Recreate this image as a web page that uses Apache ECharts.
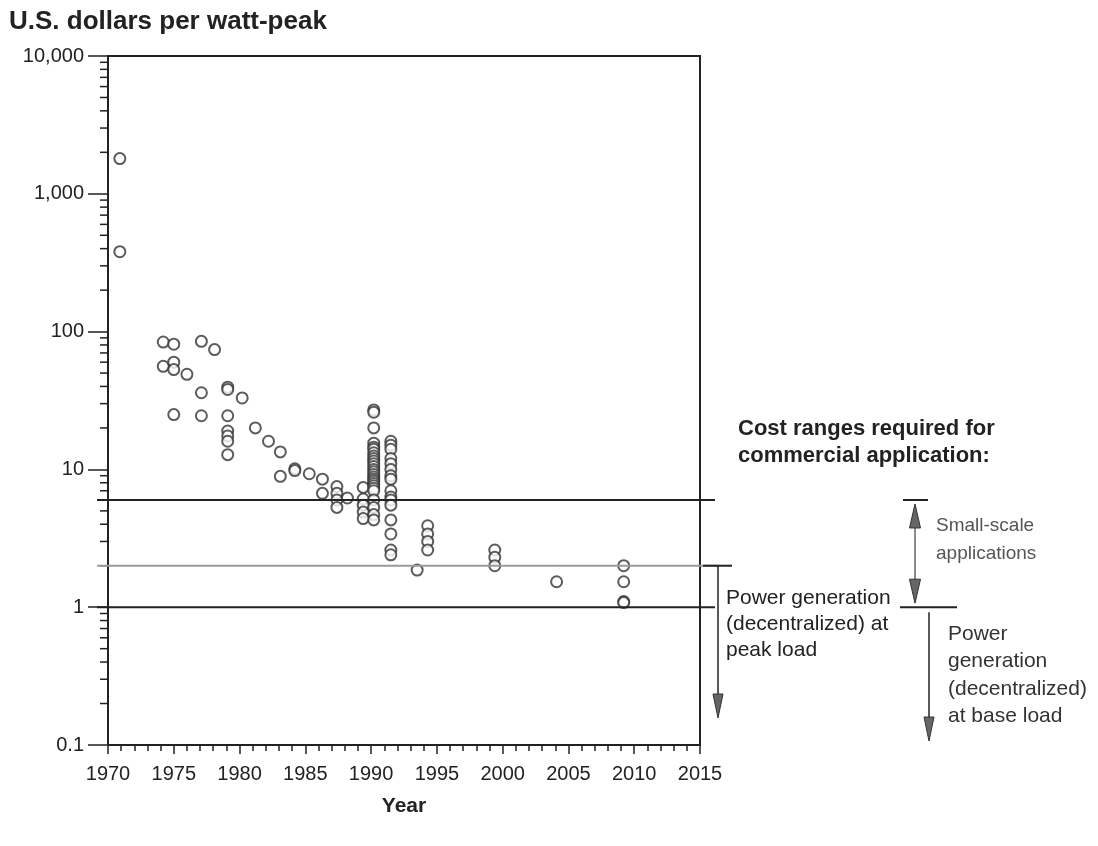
<!DOCTYPE html>
<html>
<head>
<meta charset="utf-8">
<script src="https://cdn.jsdelivr.net/npm/echarts@6/dist/echarts.min.js"></script>
<style>
html,body{margin:0;padding:0;background:#fff;}
#chart{width:1098px;height:846px;}
</style>
</head>
<body>
<div id="chart"></div>
<script>
// ---- data ----
const pointYears = [
  1970.9, 1970.9,
  1974.2, 1974.2,
  1975.0, 1975.0, 1975.0, 1975.0,
  1976.0,
  1977.1, 1977.1, 1977.1,
  1978.1,
  1979.1, 1979.1, 1979.1, 1979.1, 1979.1, 1979.1, 1979.1,
  1980.2, 1981.2, 1982.2,
  1983.1, 1983.1,
  1984.2, 1984.2,
  1985.3,
  1986.3, 1986.3,
  1987.4, 1987.4, 1987.4, 1987.4,
  1988.2,
  1989.4, 1989.4, 1989.4, 1989.4, 1989.4,
  1990.2, 1990.2, 1990.2, 1990.2, 1990.2, 1990.2, 1990.2, 1990.2, 1990.2, 1990.2, 1990.2, 1990.2, 1990.2,
  1990.2, 1990.2, 1990.2, 1990.2, 1990.2, 1990.2, 1990.2, 1990.2, 1990.2, 1990.2, 1990.2, 1990.2, 1990.2,
  1991.5, 1991.5, 1991.5, 1991.5, 1991.5, 1991.5, 1991.5, 1991.5,
  1991.5, 1991.5, 1991.5, 1991.5, 1991.5, 1991.5, 1991.5, 1991.5,
  1993.5,
  1994.3, 1994.3, 1994.3, 1994.3,
  1999.4, 1999.4, 1999.4,
  2004.1,
  2009.2, 2009.2, 2009.2, 2009.2
];
const pointCosts = [
  1800, 380,
  84, 56,
  81, 60, 53, 25,
  49,
  85, 36, 24.5,
  74,
  39.5, 38, 24.5, 19, 17.5, 16, 12.8,
  33, 20, 16,
  13.4, 8.9,
  10.1, 9.8,
  9.3,
  8.5, 6.7,
  7.5, 6.7, 6.0, 5.3,
  6.2,
  7.4, 6.1, 5.5, 4.9, 4.4,
  27, 26, 20, 15.5, 14.5, 14, 13.2, 12.5, 12, 11.5, 11, 10.5, 10,
  9.6, 9.2, 8.8, 8.5, 8.2, 7.9, 7.6, 7.3, 7.0, 6.0, 5.3, 4.7, 4.3,
  16, 15, 14, 12, 11, 10, 9, 8.5,
  7, 6.3, 6, 5.5, 4.3, 3.4, 2.6, 2.4,
  1.86,
  3.9, 3.4, 3.0, 2.6,
  2.6, 2.3, 2.0,
  1.53,
  2.0, 1.53, 1.1, 1.08
];
const yTickLabels = ['0.1', '1', '10', '100', '1,000', '10,000'];
const xTickLabels = ['1970','1975','1980','1985','1990','1995','2000','2005','2010','2015'];
const thresholdSmallScale = 6;   // top of small-scale range
const thresholdPeak = 2;         // peak-load threshold
const thresholdBase = 1;         // base-load threshold

const titleText = 'U.S. dollars per watt-peak';
const xAxisTitle = 'Year';
const costHeading = 'Cost ranges required for\ncommercial application:';
const smallScaleText = 'Small-scale\napplications';
const peakText = 'Power generation\n(decentralized) at\npeak load';
const baseText = 'Power\ngeneration\n(decentralized)\nat base load';

// log-scale minor tick positions (2..9 in each decade)
const minorTickValues = [];
[0.1, 1, 10, 100, 1000].forEach(d => { for (let m = 2; m <= 9; m++) minorTickValues.push(+(m * d).toPrecision(6)); });

const FONT = '"Liberation Sans", Arial, Helvetica, sans-serif';
const INK = '#222';

const chart = echarts.init(document.getElementById('chart'), null, {renderer: 'canvas'});

const option = {
  backgroundColor: '#fff',
  animation: false,
  title: {
    text: titleText,
    left: 4, top: 4,
    textStyle: {fontFamily: FONT, fontWeight: 'bold', fontSize: 26, color: INK}
  },
  grid: {
    left: 108, right: 398, top: 56, bottom: 101,
    show: true, borderColor: INK, borderWidth: 2, backgroundColor: 'transparent'
  },
  xAxis: {
    type: 'value', min: 1970, max: 2015, interval: 5,
    name: xAxisTitle, nameLocation: 'middle', nameGap: 51,
    nameTextStyle: {fontFamily: FONT, fontWeight: 'bold', fontSize: 21, color: INK},
    axisLine: {show: true, lineStyle: {color: INK, width: 2}},
    axisTick: {show: true, length: 9, lineStyle: {color: INK, width: 1.5}},
    minorTick: {show: true, splitNumber: 5, length: 6, lineStyle: {color: INK, width: 1.5}},
    splitLine: {show: false},
    axisLabel: {
      fontFamily: FONT, fontSize: 20, color: INK, margin: 19,
      formatter: v => xTickLabels[Math.round((v - 1970) / 5)] ?? ''
    }
  },
  yAxis: {
    type: 'log', logBase: 10, min: 0.1, max: 10000,
    axisLine: {show: true, onZero: false, lineStyle: {color: INK, width: 2}},
    axisTick: {show: true, length: 20, lineStyle: {color: INK, width: 1.5}},
    splitLine: {show: false},
    axisLabel: {
      fontFamily: FONT, fontSize: 20, color: INK, margin: 24,
      formatter: v => yTickLabels[Math.round(Math.log10(v)) + 1] ?? ''
    }
  },
  series: [
    {
      type: 'scatter',
      name: 'cost',
      data: pointYears.map((y, i) => [y, pointCosts[i]]),
      symbol: 'emptyCircle',
      symbolSize: 11,
      itemStyle: {color: '#333', borderColor: '#333', borderWidth: 2.2},
      z: 5
    },
    {
      type: 'custom',
      name: 'minorTicks',
      data: minorTickValues.map(v => [1970, v]),
      encode: {x: 0, y: 1},
      silent: true,
      renderItem: (params, api) => {
        const p = api.coord([api.value(0), api.value(1)]);
        return {
          type: 'line',
          shape: {x1: p[0] - 8, y1: p[1], x2: p[0], y2: p[1]},
          style: {stroke: INK, lineWidth: 1.5}
        };
      },
      z: 3
    }
  ]
};
chart.setOption(option);

// ---- annotations positioned through the axis scales ----
const yAt = v => chart.convertToPixel({yAxisIndex: 0}, v);
const xAt = v => chart.convertToPixel({xAxisIndex: 0}, v);
const x0 = xAt(1970), x1 = xAt(2015);
const y6 = yAt(thresholdSmallScale), y2 = yAt(thresholdPeak), y1 = yAt(thresholdBase);

function hline(xa, xb, y, color, w) {
  return {type: 'line', shape: {x1: xa, y1: y, x2: xb, y2: y}, style: {stroke: color, lineWidth: w}, z: 10};
}
function vline(x, ya, yb, color, w) {
  return {type: 'line', shape: {x1: x, y1: ya, x2: x, y2: yb}, style: {stroke: color, lineWidth: w}, z: 10};
}
function headDown(x, tipY, len, half, color) {
  return {type: 'polygon', shape: {points: [[x - half, tipY - len], [x + half, tipY - len], [x, tipY]]}, style: {fill: color, stroke: '#333', lineWidth: 1}, z: 11};
}
function headUp(x, tipY, len, half, color) {
  return {type: 'polygon', shape: {points: [[x - half, tipY + len], [x + half, tipY + len], [x, tipY]]}, style: {fill: color, stroke: '#333', lineWidth: 1}, z: 11};
}
function text(x, y, str, opts) {
  return {
    type: 'text', x: x, y: y, z: 12,
    style: Object.assign({text: str, fontFamily: FONT, fontSize: 21, fill: '#333', lineHeight: 27, textVerticalAlign: 'top'}, opts || {})
  };
}

const gray = '#666';
const graphics = [
  // threshold lines across the plot
  hline(x0 - 11, x1 + 15, y6, INK, 2),
  hline(x0 - 11, x1 + 18, y2, '#9a9a9a', 2),
  hline(x0 - 11, x1 + 15, y1, INK, 2),
  // peak-load bracket (left)
  hline(703, 732, y2, INK, 2),
  vline(718, y2, 700, INK, 1.5),
  headDown(718, 718, 24, 5, gray),
  // small-scale double arrow
  hline(903, 928, y6, INK, 2),
  vline(915, y6 + 6, y1 - 6, gray, 1.5),
  headUp(915, y6 + 4, 24, 5.5, gray),
  headDown(915, y1 - 4, 24, 5.5, gray),
  // base-load bracket
  hline(900, 957, y1, INK, 2),
  vline(929, y1 + 5, 722, INK, 1.5),
  headDown(929, 741, 24, 5, gray),
  // texts
  text(738, 415, costHeading, {fontWeight: 'bold', fontSize: 22, fill: INK, lineHeight: 27}),
  text(936, 512, smallScaleText, {fill: '#555', fontSize: 19, lineHeight: 28}),
  text(726, 585, peakText, {fill: INK, lineHeight: 26}),
  text(948, 620, baseText, {fill: '#333', lineHeight: 27.5})
];
chart.setOption({graphic: graphics});
</script>
</body>
</html>
